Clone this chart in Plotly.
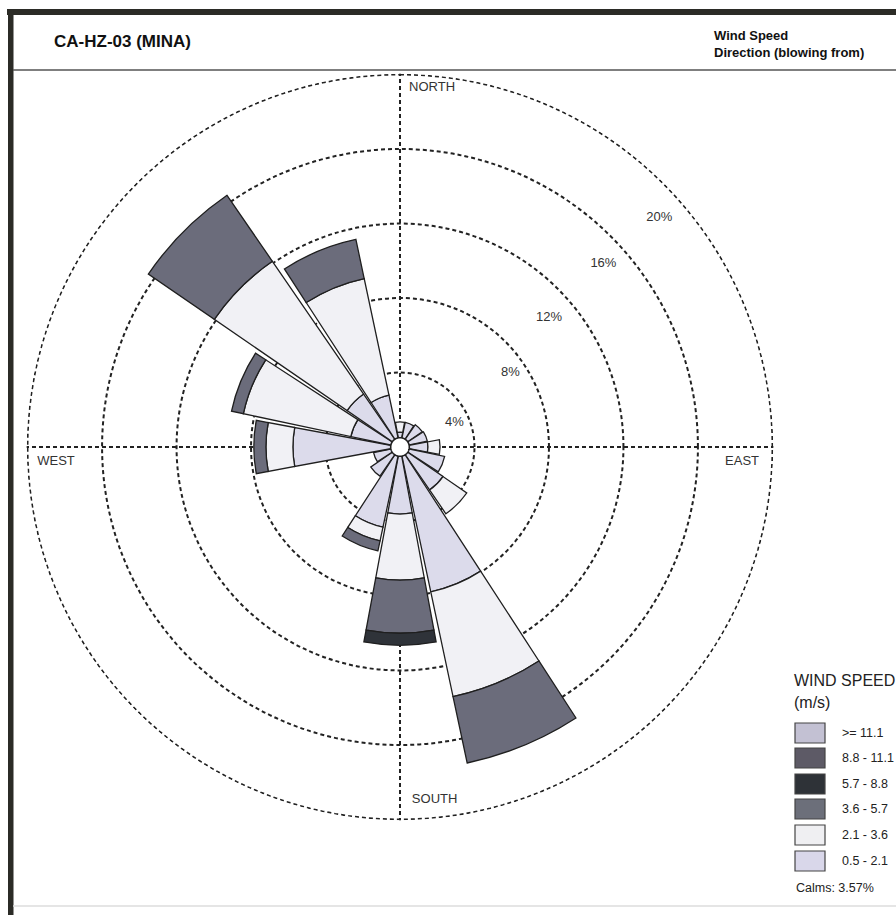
import plotly.graph_objects as go

# ---------------- data ----------------
directions = ["N", "NNE", "NE", "ENE", "E", "ESE", "SE", "SSE",
              "S", "SSW", "SW", "WSW", "W", "WNW", "NW", "NNW"]
angles = [0, 22.5, 45, 67.5, 90, 112.5, 135, 157.5,
          180, 202.5, 225, 247.5, 270, 292.5, 315, 337.5]

speed_bins = ["0.5 - 2.1", "2.1 - 3.6", "3.6 - 5.7", "5.7 - 8.8", "8.8 - 11.1", ">= 11.1"]
freq_05_21 = [0.8, 1.35, 1.45, 1.5, 1.5, 2.45, 2.8, 7.95, 3.6, 4.4, 1.9, 1.45, 5.75, 2.7, 3.45, 2.85]
freq_21_36 = [0.55, 0, 0, 0, 0.65, 0, 1.55, 5.75, 3.55, 0.75, 0, 0, 1.45, 5.9, 8.65, 6.4]
freq_36_57 = [0, 0, 0, 0, 0, 0, 0, 3.65, 2.85, 0.55, 0, 0, 0.65, 0.65, 4.3, 2.15]
freq_57_88 = [0, 0, 0, 0, 0, 0, 0, 0, 0.65, 0, 0, 0, 0, 0, 0, 0]
freq_88_111 = [0] * 16
freq_111 = [0] * 16
calms_pct = 3.57

ring_values = [4, 8, 12, 16, 20]
ring_labels = ["4%", "8%", "12%", "16%", "20%"]
ring_label_r = [3.2, 7.15, 10.6, 14.7, 18.6]
ring_label_theta = [66, 56, 49, 48, 48.5]

cardinal_labels = ["NORTH", "EAST", "SOUTH", "WEST"]
cardinal_theta = [5.1, 92.5, 174.4, 267.5]
cardinal_r = [19.36, 18.39, 19.05, 18.49]

# ---------------- style ----------------
W, H = 896, 915
CX, CY = 400, 447
RMAX = 20.05
PX_PER_PCT = 18.62
R_PX = RMAX * PX_PER_PCT
CALM_R = 0.5

bar_colors = ["#dcdbeb", "#f1f1f5", "#6b6c7b", "#2f3339", "#5d5a66", "#c3c1d3"]
legend_colors = ["#c3c1d3", "#5d5a66", "#2e3237", "#6c6f7a", "#efeff2", "#d9d7ea"]
legend_labels = [">= 11.1", "8.8 - 11.1", "5.7 - 8.8", "3.6 - 5.7", "2.1 - 3.6", "0.5 - 2.1"]
FONT = "Liberation Sans, Arial, sans-serif"
LINE_C = "#1f1f1f"
GRID_C = "#222222"
DASH = "4px,3px"


def px(x):
    return x / W


def py(y):
    return 1 - y / H


fig = go.Figure()

# outermost ring (20%) drawn as a dashed circle, since the axis drops the edge gridline
circ_theta = list(range(0, 361, 2))
fig.add_trace(go.Scatterpolar(
    r=[ring_values[-1]] * len(circ_theta), theta=circ_theta, mode="lines",
    line=dict(color=GRID_C, width=1.7, dash=DASH),
    showlegend=False, hoverinfo="skip"))

series = [freq_05_21, freq_21_36, freq_36_57, freq_57_88, freq_88_111, freq_111]
for name, vals, col in zip(speed_bins, series, bar_colors):
    fig.add_trace(go.Barpolar(
        r=vals, theta=angles, width=[21] * len(angles), name=name,
        marker=dict(color=col, line=dict(color=LINE_C, width=1.3)),
        showlegend=False, hoverinfo="skip"))

# calm circle
fig.add_trace(go.Scatterpolar(
    r=[CALM_R] * len(circ_theta), theta=circ_theta, mode="lines",
    fill="toself", fillcolor="white", line=dict(color=LINE_C, width=1.6),
    showlegend=False, hoverinfo="skip"))

# ring labels
fig.add_trace(go.Scatterpolar(
    r=ring_label_r, theta=ring_label_theta, mode="text", text=ring_labels,
    textfont=dict(family=FONT, size=13, color="#333"),
    showlegend=False, hoverinfo="skip"))

# cardinal labels
fig.add_trace(go.Scatterpolar(
    r=cardinal_r, theta=cardinal_theta, mode="text", text=cardinal_labels,
    textposition="middle center",
    textfont=dict(family=FONT, size=13, color="#333"),
    showlegend=False, hoverinfo="skip"))

fig.update_layout(
    width=W, height=H, margin=dict(l=0, r=0, t=0, b=0),
    paper_bgcolor="white", plot_bgcolor="white",
    showlegend=False,
    polar=dict(
        domain=dict(x=[px(CX - R_PX), px(CX + R_PX)],
                    y=[py(CY + R_PX), py(CY - R_PX)]),
        bgcolor="white",
        barmode="stack",
        radialaxis=dict(range=[0, RMAX], tickvals=ring_values, showticklabels=False,
                        ticks="", showline=False, gridcolor=GRID_C, gridwidth=1.7,
                        griddash=DASH),
        angularaxis=dict(rotation=90, direction="clockwise", tickvals=[0, 90, 180, 270],
                         showticklabels=False, ticks="", showline=False,
                         gridcolor=GRID_C, gridwidth=1.7, griddash=DASH),
    ),
)

shapes = []
# frame
shapes.append(dict(type="rect", xref="paper", yref="paper", x0=px(7), x1=px(896),
                   y0=py(15), y1=py(9), fillcolor="#2b2b26", line=dict(width=0)))
shapes.append(dict(type="rect", xref="paper", yref="paper", x0=px(8), x1=px(13.5),
                   y0=py(915), y1=py(9), fillcolor="#2b2b26", line=dict(width=0)))
shapes.append(dict(type="line", xref="paper", yref="paper", x0=px(13), x1=px(896),
                   y0=py(70), y1=py(70), line=dict(color="#555", width=1.5)))
shapes.append(dict(type="line", xref="paper", yref="paper", x0=px(13), x1=px(896),
                   y0=py(906), y1=py(906), line=dict(color="#ddd", width=1.5)))

# legend swatches
row_y = [733, 758, 784, 809, 835, 861]
for yy, col in zip(row_y, legend_colors):
    shapes.append(dict(type="rect", xref="paper", yref="paper",
                       x0=px(795), x1=px(825), y0=py(yy + 10), y1=py(yy - 10),
                       fillcolor=col, line=dict(color="#444", width=1.2)))

annotations = [
    dict(text="<b>CA-HZ-03 (MINA)</b>", x=px(52), y=py(42), xref="paper", yref="paper",
         xanchor="left", yanchor="middle", showarrow=False,
         font=dict(family=FONT, size=17, color="#111")),
    dict(text="<b>Wind Speed</b>", x=px(712), y=py(35), xref="paper", yref="paper",
         xanchor="left", yanchor="middle", showarrow=False,
         font=dict(family=FONT, size=13, color="#111")),
    dict(text="<b>Direction (blowing from)</b>", x=px(712), y=py(52), xref="paper", yref="paper",
         xanchor="left", yanchor="middle", showarrow=False,
         font=dict(family=FONT, size=13, color="#111")),
    dict(text="WIND SPEED", x=px(792), y=py(680), xref="paper", yref="paper",
         xanchor="left", yanchor="middle", showarrow=False,
         font=dict(family=FONT, size=16, color="#222")),
    dict(text="(m/s)", x=px(792), y=py(702), xref="paper", yref="paper",
         xanchor="left", yanchor="middle", showarrow=False,
         font=dict(family=FONT, size=16, color="#222")),
    dict(text=f"Calms: {calms_pct:.2f}%", x=px(794), y=py(888), xref="paper", yref="paper",
         xanchor="left", yanchor="middle", showarrow=False,
         font=dict(family=FONT, size=12.5, color="#222")),
]
for yy, lab in zip(row_y, legend_labels):
    annotations.append(dict(text=lab, x=px(840), y=py(yy), xref="paper", yref="paper",
                            xanchor="left", yanchor="middle", showarrow=False,
                            font=dict(family=FONT, size=12.5, color="#222")))

fig.update_layout(shapes=shapes, annotations=annotations)
fig.write_html("out.html")
